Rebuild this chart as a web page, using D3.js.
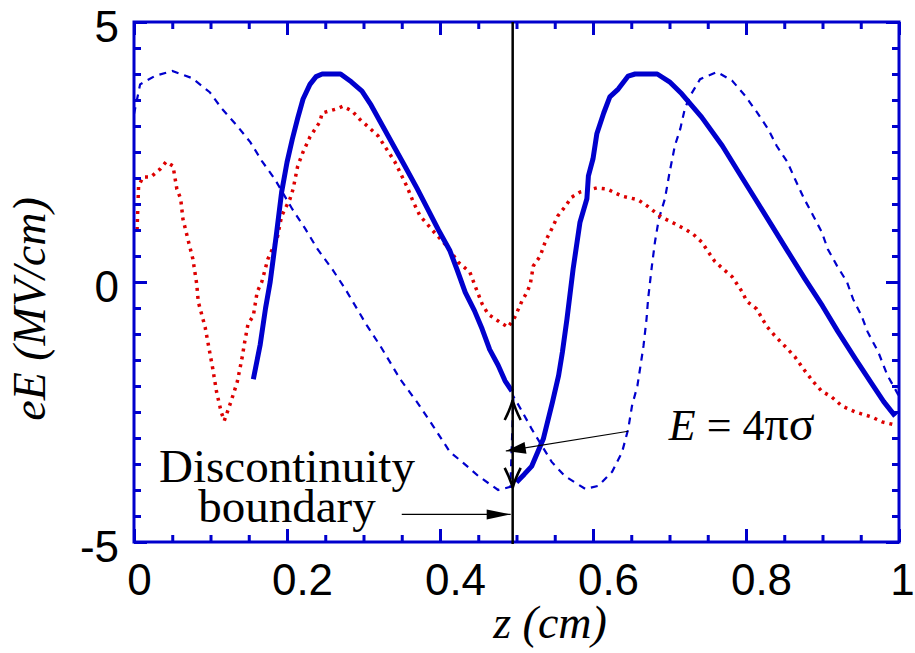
<!DOCTYPE html>
<html>
<head>
<meta charset="utf-8">
<script src="https://d3js.org/d3.v7.min.js"></script>
<style>
  body { margin: 0; background: #fff; }
</style>
</head>
<body>
<div id="chart"></div>
<script>

// thick solid blue, left of the boundary
var solidLeftZ = [0.156,0.165,0.172,0.178,0.186,0.193,0.200,0.207,0.214,0.221,0.230,0.238,0.246,0.258,0.270,0.284,0.298,0.310,0.325,0.340,0.354,0.370,0.384,0.398,0.413,0.422,0.433,0.445,0.455,0.465,0.476,0.485,0.494];
var solidLeftE = [-1.87,-1.2,-0.5,0,0.9,1.73,2.3,2.75,3.15,3.52,3.8,3.95,4.0,4.0,4.0,3.85,3.67,3.4,3.0,2.6,2.23,1.8,1.4,1.0,0.6,0.25,-0.2,-0.55,-0.9,-1.3,-1.6,-1.9,-2.1];

// thick solid blue, right of the boundary
var solidRightZ = [0.500,0.510,0.520,0.535,0.547,0.555,0.560,0.566,0.574,0.583,0.592,0.594,0.600,0.605,0.614,0.622,0.633,0.646,0.655,0.684,0.700,0.716,0.742,0.769,0.790,0.812,0.834,0.855,0.877,0.900,0.920,0.943,0.965,0.980,0.995];
var solidRightE = [-3.85,-3.7,-3.54,-3.02,-2.31,-1.8,-1.35,-0.71,0.25,1.15,1.6,2.04,2.37,2.85,3.25,3.56,3.71,3.96,4.0,4.0,3.85,3.62,3.17,2.62,2.12,1.6,1.08,0.58,0.06,-0.46,-0.95,-1.48,-1.97,-2.3,-2.58];

// thin dashed blue
var dashedZ = [0,0.008,0.027,0.050,0.076,0.099,0.115,0.135,0.152,0.167,0.184,0.207,0.224,0.240,0.259,0.276,0.305,0.322,0.348,0.370,0.391,0.413,0.429,0.450,0.476,0.492,0.496,0.507,0.520,0.546,0.563,0.590,0.607,0.625,0.638,0.646,0.651,0.658,0.662,0.666,0.670,0.672,0.677,0.681,0.686,0.694,0.700,0.707,0.714,0.720,0.727,0.740,0.762,0.782,0.799,0.814,0.829,0.840,0.854,0.864,0.875,0.888,0.899,0.907,0.919,0.932,0.940,0.951,0.959,0.973,0.985,0.995,1.0];
var dashedE = [3.23,3.8,3.96,4.06,3.92,3.65,3.33,3.0,2.69,2.33,1.98,1.4,1.02,0.63,0.25,-0.13,-0.85,-1.23,-1.87,-2.31,-2.77,-3.27,-3.46,-3.73,-4.0,-3.94,-2.2,-2.48,-2.83,-3.46,-3.73,-3.98,-3.92,-3.65,-3.27,-2.83,-2.38,-2.0,-1.62,-1.23,-0.71,-0.33,0.31,0.77,1.21,1.6,2.1,2.62,2.94,3.33,3.58,3.9,4.04,3.87,3.58,3.27,2.94,2.62,2.31,1.98,1.63,1.27,0.96,0.63,0.31,0,-0.33,-0.65,-0.96,-1.35,-1.8,-2.06,-2.2];

// red dotted
var dottedZ = [0.004,0.006,0.012,0.022,0.034,0.042,0.051,0.056,0.061,0.064,0.071,0.077,0.082,0.084,0.093,0.099,0.103,0.108,0.114,0.118,0.127,0.135,0.141,0.145,0.149,0.156,0.161,0.167,0.175,0.187,0.193,0.204,0.208,0.214,0.221,0.230,0.243,0.246,0.265,0.273,0.285,0.295,0.305,0.319,0.330,0.341,0.357,0.365,0.374,0.391,0.409,0.424,0.439,0.446,0.455,0.463,0.478,0.489,0.498,0.507,0.514,0.518,0.522,0.531,0.538,0.546,0.554,0.563,0.572,0.583,0.605,0.618,0.638,0.659,0.671,0.689,0.703,0.720,0.731,0.742,0.759,0.770,0.782,0.795,0.801,0.814,0.827,0.838,0.848,0.864,0.875,0.888,0.899,0.912,0.925,0.943,0.965,0.978,0.995];
var dottedE = [1.0,1.85,2.02,2.02,2.17,2.31,2.23,1.79,1.6,1.21,0.79,0.44,-0.04,-0.38,-0.87,-1.35,-1.67,-2.12,-2.5,-2.67,-2.29,-1.92,-1.48,-1.13,-0.81,-0.65,-0.19,0,0.44,0.83,1.27,1.6,1.79,2.23,2.5,2.79,3.08,3.25,3.33,3.38,3.29,3.13,3.0,2.81,2.56,2.31,1.83,1.54,1.27,0.98,0.69,0.38,0.19,-0.08,-0.42,-0.62,-0.77,-0.87,-0.67,-0.37,-0.19,-0.04,0.31,0.5,0.79,1.02,1.27,1.44,1.63,1.73,1.81,1.79,1.65,1.58,1.46,1.25,1.15,1.02,0.92,0.77,0.4,0.25,0.1,-0.19,-0.37,-0.52,-0.85,-1.04,-1.19,-1.44,-1.67,-1.92,-2.1,-2.21,-2.38,-2.5,-2.6,-2.69,-2.75];

// ticks
var zMajor = [0, 0.2, 0.4, 0.6, 0.8, 1];
var zMajorLabels = ["0", "0.2", "0.4", "0.6", "0.8", "1"];
var zMinor = d3.range(0, 1.0001, 0.05);
var eMajor = [-5, 0, 5];
var eMajorLabels = ["-5", "0", "5"];
var eMinor = d3.range(-5, 5.0001, 0.5);

var boundaryZ = 0.495;

var blue = "#0000cd", red = "#dd0000";

var margin = {top: 22, right: 16, bottom: 111, left: 134},
    width = 915 - margin.left - margin.right,
    height = 653 - margin.top - margin.bottom;

var svg = d3.select("#chart").append("svg")
    .attr("width", 915)
    .attr("height", 653)
  .append("g")
    .attr("transform", "translate(" + margin.left + "," + margin.top + ")");

var x = d3.scaleLinear().domain([0, 1]).range([0, width]);
var y = d3.scaleLinear().domain([-5, 5]).range([height, 0]);

var line = d3.line()
    .x(function(d) { return x(d[0]); })
    .y(function(d) { return y(d[1]); });

// curves
svg.append("path")
    .datum(d3.zip(dashedZ, dashedE))
    .attr("d", line)
    .attr("fill", "none")
    .attr("stroke", blue)
    .attr("stroke-width", 2.2)
    .attr("stroke-dasharray", "7,6");

svg.append("path")
    .datum(d3.zip(dottedZ, dottedE))
    .attr("d", line)
    .attr("fill", "none")
    .attr("stroke", red)
    .attr("stroke-width", 3.5)
    .attr("stroke-dasharray", "3,5");

[d3.zip(solidLeftZ, solidLeftE), d3.zip(solidRightZ, solidRightE)].forEach(function(seg) {
  svg.append("path")
      .datum(seg)
      .attr("d", line)
      .attr("fill", "none")
      .attr("stroke", blue)
      .attr("stroke-width", 5)
      .attr("stroke-linejoin", "round");
});

// axes: ticks inward on all four sides
function styleAxis(g) {
  g.select(".domain").remove();
  g.selectAll(".tick line").attr("stroke", blue).attr("stroke-width", 3);
}

svg.append("g").attr("transform", "translate(0," + height + ")")
    .call(d3.axisBottom(x).tickValues(zMinor).tickSize(-7).tickFormat(""))
    .call(styleAxis);
svg.append("g")
    .call(d3.axisTop(x).tickValues(zMinor).tickSize(-7).tickFormat(""))
    .call(styleAxis);
svg.append("g")
    .call(d3.axisLeft(y).tickValues(eMinor).tickSize(-7).tickFormat(""))
    .call(styleAxis);
svg.append("g").attr("transform", "translate(" + width + ",0)")
    .call(d3.axisRight(y).tickValues(eMinor).tickSize(-7).tickFormat(""))
    .call(styleAxis);

svg.append("g")
    .call(d3.axisTop(x).tickValues(zMajor).tickSize(-13).tickFormat(""))
    .call(styleAxis);
svg.append("g").attr("transform", "translate(" + width + ",0)")
    .call(d3.axisRight(y).tickValues(eMajor).tickSize(-13).tickFormat(""))
    .call(styleAxis);

var xAxis = svg.append("g").attr("transform", "translate(0," + height + ")")
    .call(d3.axisBottom(x).tickValues(zMajor).tickSize(-13).tickPadding(22)
      .tickFormat(function(d, i) { return zMajorLabels[i]; }))
    .call(styleAxis);
xAxis.selectAll("text")
    .attr("fill", "#000")
    .attr("font-family", "'Liberation Sans', Arial, sans-serif")
    .attr("font-size", 44)
    .attr("dx", function(d, i) { return zMajorLabels[i].length > 1 ? 15 : (i === 0 ? 5 : 3); });

var yAxis = svg.append("g")
    .call(d3.axisLeft(y).tickValues(eMajor).tickSize(-13).tickPadding(15)
      .tickFormat(function(d, i) { return eMajorLabels[i]; }))
    .call(styleAxis);
yAxis.selectAll("text")
    .attr("fill", "#000")
    .attr("font-family", "'Liberation Sans', Arial, sans-serif")
    .attr("font-size", 44)
    .attr("dy", "0.45em");

// frame
svg.append("rect")
    .attr("x", 0).attr("y", 0)
    .attr("width", width).attr("height", height)
    .attr("fill", "none")
    .attr("stroke", blue)
    .attr("stroke-width", 3);

// discontinuity boundary
svg.append("line")
    .attr("x1", x(boundaryZ)).attr("x2", x(boundaryZ))
    .attr("y1", y(5)).attr("y2", y(-5) + 2)
    .attr("stroke", "#000")
    .attr("stroke-width", 2.5);

function head(x1, y1, x2, y2, len, half) {
  var a = Math.atan2(y2 - y1, x2 - x1),
      bx = x2 - len * Math.cos(a), by = y2 - len * Math.sin(a),
      px = -Math.sin(a) * half, py = Math.cos(a) * half;
  return "M" + x2 + "," + y2 + "L" + (bx + px) + "," + (by + py) + "L" + (bx - px) + "," + (by - py) + "Z";
}

// open arrowheads on the boundary line
[[-2.27, 1], [-3.96, -1]].forEach(function(a) {
  var tx = x(boundaryZ), ty = y(a[0]), s = a[1];
  svg.append("path")
      .attr("d", "M" + (tx - 8) + "," + (ty + 20 * s) + "Q" + (tx - 2) + "," + (ty + 8 * s) + " " + tx + "," + ty +
                 "Q" + (tx + 2) + "," + (ty + 8 * s) + " " + (tx + 8) + "," + (ty + 20 * s))
      .attr("fill", "none")
      .attr("stroke", "#000")
      .attr("stroke-width", 2.6);
});

// arrow from E = 4πσ
var sx1 = x(0.646), sy1 = y(-2.87), sx2 = x(0.486), sy2 = y(-3.25);
svg.append("line")
    .attr("x1", sx1).attr("y1", sy1).attr("x2", sx2).attr("y2", sy2)
    .attr("stroke", "#000").attr("stroke-width", 1.2);
svg.append("path").attr("d", head(sx1, sy1, sx2, sy2, 20, 6)).attr("fill", "#000");

// arrow from "boundary"
var bx1 = x(0.35), by1 = y(-4.47), bx2 = x(boundaryZ) - 2, by2 = y(-4.47);
svg.append("line")
    .attr("x1", bx1).attr("y1", by1).attr("x2", bx2).attr("y2", by2)
    .attr("stroke", "#000").attr("stroke-width", 1.2);
svg.append("path").attr("d", head(bx1, by1, bx2, by2, 24, 5)).attr("fill", "#000");

// annotation text
var serif = "'Liberation Serif', 'Times New Roman', serif";
svg.append("text")
    .attr("x", x(0.2)).attr("y", y(-3.85))
    .attr("text-anchor", "middle")
    .attr("font-family", serif).attr("font-size", 47)
    .text("Discontinuity");
svg.append("text")
    .attr("x", x(0.2)).attr("y", y(-4.62))
    .attr("text-anchor", "middle")
    .attr("font-family", serif).attr("font-size", 47)
    .text("boundary");

var eq = svg.append("text")
    .attr("x", x(0.699)).attr("y", y(-3.03))
    .attr("font-family", serif).attr("font-size", 44);
eq.append("tspan").attr("font-style", "italic").text("E");
eq.append("tspan").text(" = 4");
eq.append("tspan").attr("font-size", 48).text("\u03c0\u03c3");

// axis titles
svg.append("text")
    .attr("transform", "translate(" + (45 - margin.left) + "," + (309 - margin.top) + ") rotate(-90)")
    .attr("text-anchor", "middle")
    .attr("font-family", serif).attr("font-style", "italic").attr("font-size", 46)
    .text("eE (MV/cm)");

svg.append("text")
    .attr("x", 550 - margin.left).attr("y", 638 - margin.top)
    .attr("text-anchor", "middle")
    .attr("font-family", serif).attr("font-style", "italic").attr("font-size", 46)
    .text("z (cm)");

</script>
</body>
</html>
